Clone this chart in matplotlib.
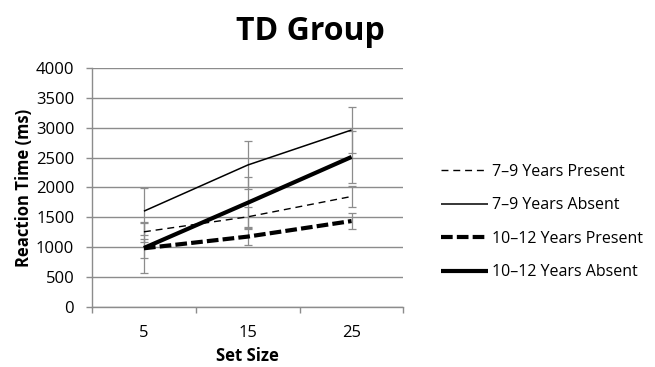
import matplotlib
matplotlib.use("Agg")
import matplotlib.pyplot as plt

plt.rcParams['font.family'] = ['Open Sans', 'DejaVu Sans']

categories = ["5", "15", "25"]
series_labels = ["7\u20139 Years Present", "7\u20139 Years Absent",
                 "10\u201312 Years Present", "10\u201312 Years Absent"]
p79 = [1260, 1510, 1850]
a79 = [1605, 2375, 2960]
p1012 = [985, 1180, 1440]
a1012 = [990, 1745, 2510]
err_p79 = [170, 170, 170]
err_a79 = [390, 400, 390]
err_p1012 = [160, 140, 135]
err_a1012 = [420, 430, 440]
yticks = [0, 500, 1000, 1500, 2000, 2500, 3000, 3500, 4000]

fig = plt.figure(figsize=(6.55, 3.67), dpi=100)
ax = fig.add_axes([0.1405, 0.1627, 0.4755, 0.6529])

x = list(range(len(categories)))
styles = [
    (p79, err_p79, dict(color='black', lw=1.0, ls=(0, (5, 3.5)))),
    (a79, err_a79, dict(color='black', lw=1.1, ls='-')),
    (p1012, err_p1012, dict(color='black', lw=3.0, ls=(0, (2.8, 1.0)))),
    (a1012, err_a1012, dict(color='black', lw=3.0, ls='-')),
]
handles = []
for (vals, errs, st), lab in zip(styles, series_labels):
    ax.errorbar(x, vals, yerr=errs, fmt='none', ecolor='#8c8c8c',
                elinewidth=0.9, capsize=3, capthick=0.9, zorder=2)
    h, = ax.plot(x, vals, label=lab, zorder=3, solid_capstyle='butt',
                 dash_capstyle='butt', **st)
    handles.append(h)

ax.set_xlim(-0.5, 2.5)
ax.set_ylim(0, 4000)
ax.set_yticks(yticks)
ax.set_yticklabels([str(v) for v in yticks], fontsize=12)
ax.set_xticks(x)
ax.set_xticklabels(categories, fontsize=12)
ax.set_xticks([-0.5, 0.5, 1.5, 2.5], minor=True)
ax.tick_params(axis='x', which='major', length=0, pad=13)
ax.tick_params(axis='x', which='minor', length=4.3, color='#8c8c8c', width=1)
ax.tick_params(axis='y', length=4.3, color='#8c8c8c', width=1, pad=8.5)
ax.grid(axis='y', color='#8c8c8c', lw=1)
ax.set_axisbelow(True)
for s in ['top', 'right']:
    ax.spines[s].set_visible(False)
for s in ['left', 'bottom']:
    ax.spines[s].set_color('#8c8c8c')
    ax.spines[s].set_linewidth(1)

ax.set_xlabel("Set Size", fontsize=12, fontweight='bold', labelpad=4)
ax.set_ylabel("Reaction Time (ms)", fontsize=12, fontweight='bold', labelpad=2)
fig.text(310 / 655, 1 - 31 / 367, "TD Group", fontsize=23, fontweight='bold',
         ha='center', va='center')

fig.legend(handles=handles, loc='center left', bbox_to_anchor=(433 / 655, 1 - 222 / 367),
           frameon=False, fontsize=11.5, handlelength=2.95, handletextpad=0.25,
           labelspacing=1.1, borderpad=0)

fig.savefig("out.png", dpi=100)
